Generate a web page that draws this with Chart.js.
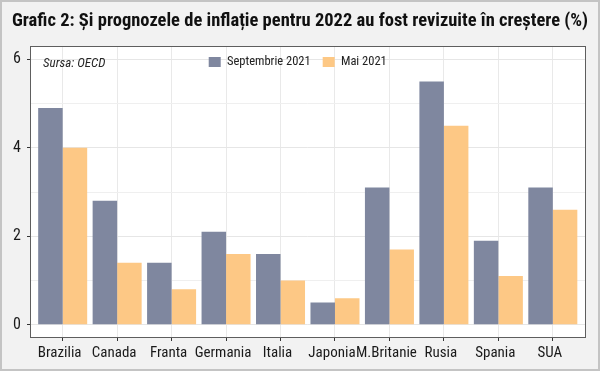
<!DOCTYPE html>
<html><head><meta charset="utf-8">
<script src="https://cdn.jsdelivr.net/npm/chart.js@4.4.0/dist/chart.umd.min.js"></script>
<style>html,body{margin:0;padding:0;background:#f2f2f2}#wrap{width:600px;height:371px}</style>
</head><body><div id="wrap"><canvas id="c" width="600" height="371"></canvas></div>
<script>
const categories = ['Brazilia','Canada','Franta','Germania','Italia','Japonia','M.Britanie','Rusia','Spania','SUA'];
const septembrie2021 = [4.9, 2.8, 1.4, 2.1, 1.6, 0.5, 3.1, 5.5, 1.9, 3.1];
const mai2021 = [4.0, 1.4, 0.8, 1.6, 1.0, 0.6, 1.7, 4.5, 1.1, 2.6];
const seriesNames = ['Septembrie 2021', 'Mai 2021'];
const yTicks = [0, 1, 2, 3, 4, 5, 6];
const yLabels = ['0', '', '2', '', '4', '', '6'];
const titleText = 'Grafic 2: Și prognozele de inflație pentru 2022 au fost revizuite în creștere (%)';
const sourceText = 'Sursa: OECD';

Chart.defaults.font.family = "'Roboto Condensed', 'Open Sans', sans-serif";

const framePlugin = {
  id: 'frame',
  beforeDraw(chart) {
    const {ctx, width, height, chartArea: a} = chart;
    ctx.save();
    ctx.fillStyle = '#f2f2f2';
    ctx.fillRect(0, 0, width, height);
    ctx.fillStyle = '#ffffff';
    ctx.fillRect(a.left, a.top, a.right - a.left, a.bottom - a.top);
    ctx.restore();
  },
  afterLayout(chart) {
    const lg = chart.legend, a = chart.chartArea, tb = chart.titleBlock;
    if (tb) { tb.left = 0; tb.right = chart.width; tb.width = chart.width; }
    if (lg) {
      lg.left = a.left - 10; lg.right = a.right - 10;
      lg.top = a.top - 2.25; lg.bottom = lg.top + 30;
      lg.width = lg.right - lg.left; lg.height = 30;
    }
  },
  afterDraw(chart) {
    const {ctx, width, height, chartArea: a} = chart;
    ctx.save();
    ctx.strokeStyle = '#5e5e5e';
    ctx.lineWidth = 1;
    ctx.strokeRect(Math.round(a.left) + 0.5, Math.round(a.top) + 0.5, Math.round(a.right - a.left) - 1, Math.round(a.bottom - a.top) - 1);
    ctx.strokeStyle = '#c4c4c4';
    ctx.lineWidth = 2;
    ctx.strokeRect(1, 1, width - 2, height - 2);
    ctx.fillStyle = '#262626';
    ctx.font = "italic 13px 'Roboto Condensed', sans-serif";
    ctx.textBaseline = 'alphabetic';
    ctx.textAlign = 'left';
    ctx.fillText(sourceText, a.left + 13, a.top + 20.5);
    ctx.restore();
  }
};

new Chart(document.getElementById('c'), {
  type: 'bar',
  data: {
    datasets: [
      { label: seriesNames[0], data: septembrie2021.map((v, i) => ({x: i, y: v})), backgroundColor: '#7f879f', borderWidth: 0 },
      { label: seriesNames[1], data: mai2021.map((v, i) => ({x: i, y: v})), backgroundColor: '#fdc885', borderWidth: 0 }
    ]
  },
  options: {
    responsive: false,
    animation: false,
    devicePixelRatio: 1,
    categoryPercentage: 0.9,
    barPercentage: 1.0,
    layout: { padding: { left: 0, right: 14.5, top: 0, bottom: 0 } },
    plugins: {
      title: {
        display: true, text: titleText, color: '#111',
        font: { size: 18.5, weight: 'bold' },
        padding: { top: 10.3, bottom: 12.5 }
      },
      legend: {
        position: 'top',
        maxHeight: 1,
        labels: { boxWidth: 12, boxHeight: 10, padding: 12, color: '#222', font: { size: 12.5 } }
      },
      tooltip: { enabled: false }
    },
    scales: {
      x: {
        type: 'linear', min: -0.6, max: 9.6, offset: false,
        afterBuildTicks: s => { s.ticks = categories.map((c, i) => ({value: i})); },
        afterFit: s => { s.height = 33; },
        ticks: { callback: v => categories[v], color: '#1a1a1a', font: { size: 15 }, padding: 3, labelOffset: -3, autoSkip: false, maxRotation: 0 },
        grid: { offset: false, color: '#e9e9e9', lineWidth: 1, tickLength: 3, tickColor: '#333' },
        border: { display: false }
      },
      y: {
        min: -0.3, max: 6.3,
        afterBuildTicks: s => { s.ticks = yTicks.map(v => ({value: v})); },
        afterFit: s => { s.width = 30; },
        ticks: { callback: (v, i) => yLabels[i], color: '#1a1a1a', font: { size: 16 }, padding: 6 },
        grid: {
          color: c => (c.tick && c.tick.value % 2 === 0) ? '#e6e6e6' : '#efefef',
          lineWidth: 1,
          tickLength: 3,
          tickColor: c => (c.tick && c.tick.value % 2 === 0) ? '#333' : 'rgba(0,0,0,0)'
        },
        border: { display: false }
      }
    }
  },
  plugins: [framePlugin]
});
</script>
</body></html>
